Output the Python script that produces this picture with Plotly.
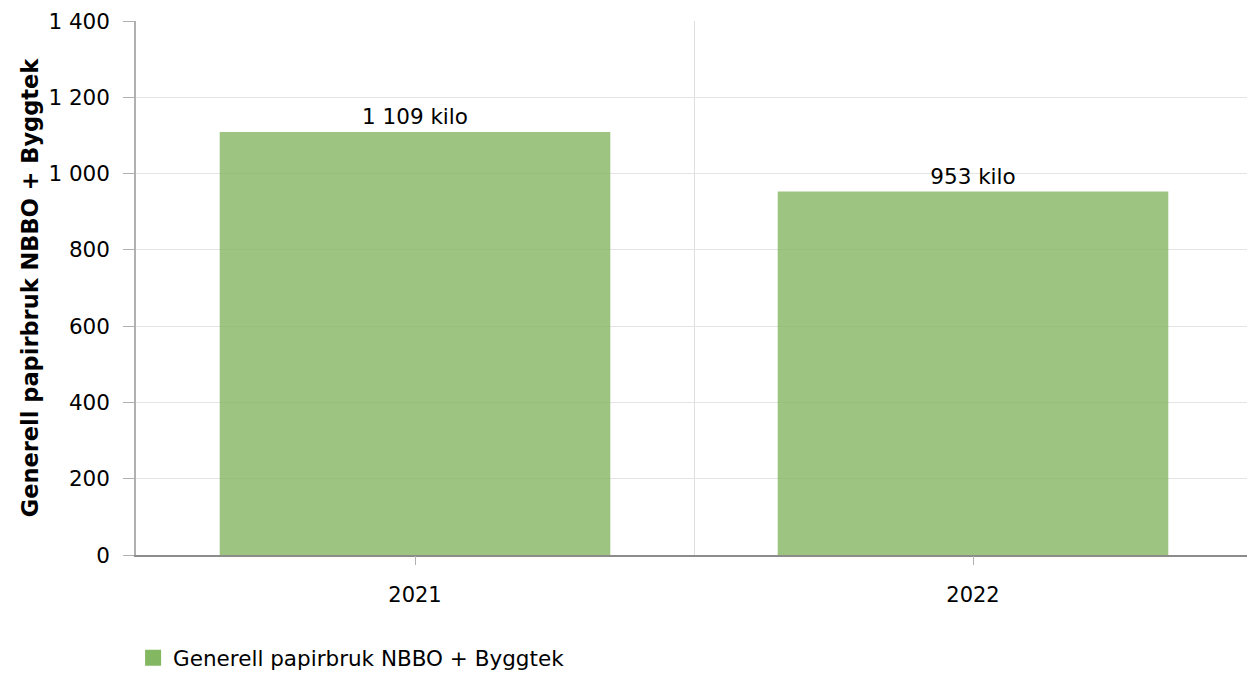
import plotly.graph_objects as go

# Data
years = ["2021", "2022"]
paper_kilo = [1109, 953]
series_name = "Generell papirbruk NBBO + Byggtek"
y_ticks = [0, 200, 400, 600, 800, 1000, 1200, 1400]

labels = [f"{v:,}".replace(",", " ") + " kilo" for v in paper_kilo]

FONT = "DejaVu Sans, Verdana, sans-serif"
GREEN = "#84b761"

fig = go.Figure()

fig.add_trace(
    go.Bar(
        x=years,
        y=paper_kilo,
        name=series_name,
        marker=dict(color="rgba(132,183,97,0.8)", line=dict(width=0)),
        width=0.7,
        text=labels,
        textposition="outside",
        textfont=dict(size=21.5, color="#000000", family=FONT),
        cliponaxis=False,
        showlegend=False,
    )
)

# legend entry with a large square swatch
fig.add_trace(
    go.Scatter(
        x=[None], y=[None],
        mode="markers",
        name=series_name,
        marker=dict(symbol="square", size=30, color=GREEN),
        showlegend=True,
    )
)

# invisible trace so the tick axis (x2) is drawn
fig.add_trace(
    go.Scatter(x=[0, 1], y=[0, 0], xaxis="x2", mode="markers",
               marker=dict(opacity=0), showlegend=False, hoverinfo="skip")
)

fig.update_layout(
    width=1247,
    height=665,
    margin=dict(l=128, r=3, t=13, b=118, autoexpand=False),
    paper_bgcolor="white",
    plot_bgcolor="white",
    separators=", ",
    font=dict(family=FONT, size=21.5, color="#000000"),
    showlegend=True,
    legend=dict(
        orientation="h",
        x=-0.0026, xanchor="left",
        y=-0.231, yanchor="bottom",
        font=dict(size=21.5, family=FONT),
        itemsizing="trace",
        itemwidth=30,
    ),
    xaxis=dict(
        type="category",
        categoryorder="array",
        categoryarray=years,
        range=[-0.5, 1.5],
        tickson="boundaries",
        showgrid=True,
        gridcolor="#dedede",
        gridwidth=1,
        ticks="",
        showticklabels=False,
        showline=True,
        linecolor="#8c8c8c",
        linewidth=1.5,
        layer="below traces",
        fixedrange=True,
        automargin=False,
    ),
    xaxis2=dict(
        overlaying="x",
        side="bottom",
        range=[-0.5, 1.5],
        tickmode="array",
        tickvals=[0, 1],
        ticktext=years,
        ticks="outside",
        ticklen=9,
        tickcolor="#b0b0b0",
        tickfont=dict(size=21, family=FONT),
        showgrid=False,
        zeroline=False,
        showline=False,
        ticklabelstandoff=12,
        automargin=False,
    ),
    yaxis=dict(
        range=[0, 1400],
        tickmode="array",
        tickvals=y_ticks,
        tickformat=",d",
        ticks="outside",
        ticklen=11,
        tickcolor="#b0b0b0",
        showgrid=True,
        gridcolor="#e4e4e4",
        gridwidth=1,
        zeroline=False,
        showline=True,
        linecolor="#b0b0b0",
        linewidth=1.5,
        title=dict(
            text="<b>" + series_name + "</b>",
            font=dict(size=22.5, family=FONT),
            standoff=4,
        ),
        tickfont=dict(size=21.5, family=FONT),
        ticklabelstandoff=9,
        layer="below traces",
        automargin=False,
    ),
)

fig.write_html("out.html")
